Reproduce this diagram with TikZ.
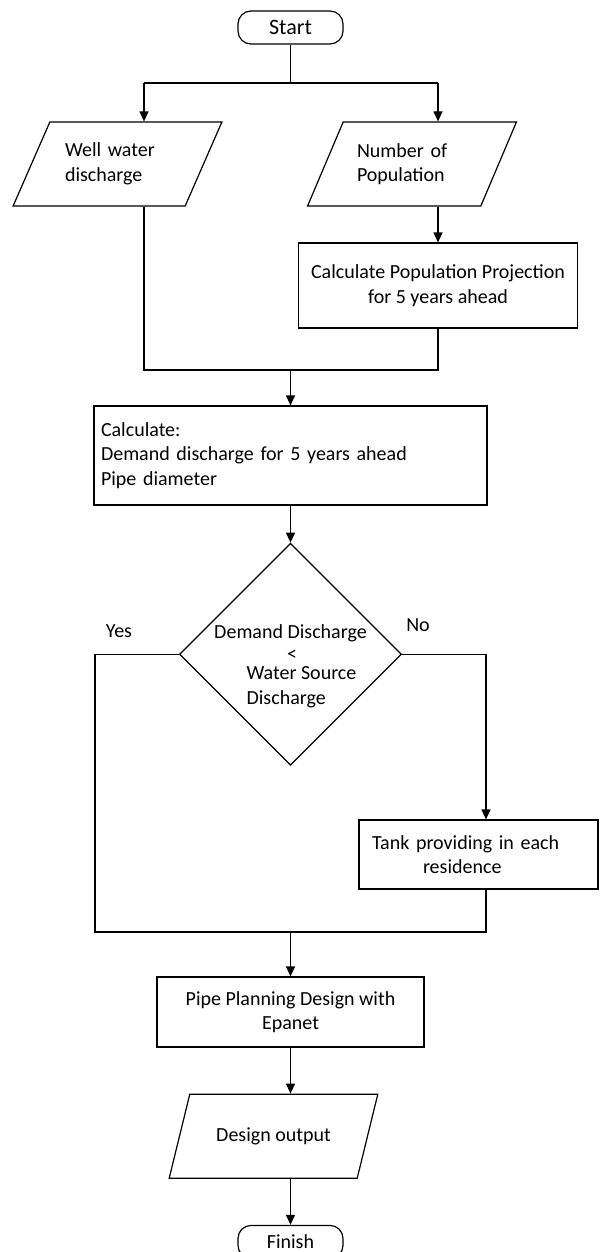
\documentclass[tikz,border=0pt]{standalone}
\usepackage{fontspec}
\setmainfont{Carlito}
\usetikzlibrary{shapes.geometric, arrows.meta, positioning}

\begin{document}
\begin{tikzpicture}[
    x=1pt, y=-1pt,
    line width=1.2pt,
    font={\fontsize{20}{24.5}\selectfont},
    terminal/.style={rectangle, rounded corners=13pt, draw, minimum width=105pt, minimum height=33pt},
    io/.style={trapezium, trapezium left angle=58, trapezium right angle=122, trapezium stretches,
               draw, minimum width=209pt, minimum height=84pt, align=left},
    process/.style={rectangle, draw, align=center},
    decision/.style={diamond, draw, aspect=1, minimum width=222pt, minimum height=222pt, inner sep=0pt},
    lbl/.style={inner sep=0pt},
    arr/.style={-{Triangle[length=10pt,width=9pt]}}
]
    \useasboundingbox (0,0) rectangle (601,1252);

    % start and the two inputs
    \node[terminal, font={\fontsize{22}{26}\selectfont}] (start) at (290.5,27.5) {Start};
    \node[io, text width=105pt] (well) at (117.5,164) {Well water\\discharge};
    \node[io, text width=110pt] (pop) at (412,164) {Number of\\Population};
    \node[process, minimum width=279pt, minimum height=85pt] (proj) at (438,285.5) {Calculate Population Projection\\for 5 years ahead};

    \coordinate (split) at (290.5,83);
    \coordinate (splitl) at (144,83);
    \coordinate (splitr) at (438,83);
    \coordinate (merge) at (290.5,370);

    \draw (start) -- (split);
    \draw (splitl) -- (splitr);
    \draw[arr] (splitl) -- (splitl |- well.north);
    \draw[arr] (splitr) -- (splitr |- pop.north);
    \draw[arr] (pop.south -| splitr) -- (proj.north);
    \draw (well.south -| splitl) -- (splitl |- merge) -- (merge -| splitr) -- (proj.south);

    % calculation and decision
    \node[process, align=left, text width=379pt, minimum width=393pt, minimum height=99pt] (calc) at (290.5,455.5)
        {Calculate:\\Demand discharge for 5 years ahead\\Pipe diameter};
    \node[decision, below=37pt of calc] (dec) {};
    \node[lbl] (decq1) at (290.5,633) {Demand Discharge};
    \node[lbl] (declt) at (292,655) {<};
    \node[lbl, align=left, anchor=west] (decq2) at (246,687) {Water Source\\Discharge};
    \node[lbl] (yes) at (119,631) {Yes};
    \node[lbl] (no) at (418,625) {No};

    \node[process, align=left, text width=213pt, minimum width=239pt, minimum height=69pt] (tank) at (478.5,854.5)
        {Tank providing in each\\\hspace*{51pt}residence};

    \draw[arr] (merge) -- (calc.north);
    \draw[arr] (calc) -- (dec);

    \coordinate (join) at (290.5,932);
    \coordinate (joinl) at (95,932);
    \coordinate (joinr) at (486,932);

    \draw (dec.west) -| (joinl) -- (joinr) -- (joinr |- tank.south);
    \draw[arr] (dec.east) -| (joinr |- tank.north);

    % design and output
    \node[process, minimum width=267pt, minimum height=70pt] (pipe) at (290.5,1012) {Pipe Planning Design with\\Epanet};
    \node[io, below=46pt of pipe, xshift=-17pt] (out) {Design output};
    \node[terminal, below=46pt of out, xshift=17pt] (finish) {Finish};

    \draw[arr] (join) -- (pipe.north);
    \draw[arr] (pipe.south) -- (pipe.south |- out.north);
    \draw[arr] (pipe.south |- out.south) -- (finish.north);
\end{tikzpicture}
\end{document}
